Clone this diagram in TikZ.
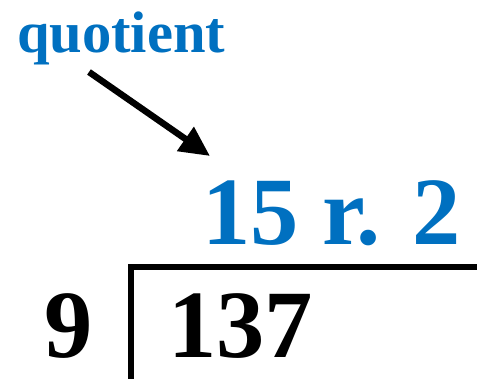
\documentclass[tikz,border=0pt]{standalone}
\usepackage{fontspec}
\setmainfont{Liberation Serif}
\usetikzlibrary{arrows.meta}
\definecolor{qblue}{RGB}{0,112,192}
\begin{document}
\begin{tikzpicture}[x=1pt,y=-1pt,
  txt/.style={inner sep=0pt,outer sep=0pt,anchor=base west,font=\bfseries},
  big/.style={txt,font=\fontsize{96.5}{96.5}\selectfont\bfseries},
  bar/.style={line width=6pt,line join=miter},
  ptr/.style={line width=6.5pt,-{Triangle[length=30pt,width=28pt]}}]
\useasboundingbox (0,0) rectangle (477,379);
\node[txt,text=qblue,font=\fontsize{58.6}{58.6}\selectfont\bfseries] (quot) at (17,53) {quotient};
\node[big,text=qblue] (ans) at (202,245) {15 r. 2};
\node[big] (div) at (44,358) {9};
\node[big] (dvd) at (168,358) {137};
\coordinate (as) at (89,72);
\coordinate (ae) at (210,156);
\coordinate (vb) at (131,379);
\coordinate (cr) at (131,267);
\coordinate (hr) at (477,267);
\draw[ptr] (as) -- (ae);
\draw[bar] (vb) -- (cr) -- (hr);
\end{tikzpicture}
\end{document}
